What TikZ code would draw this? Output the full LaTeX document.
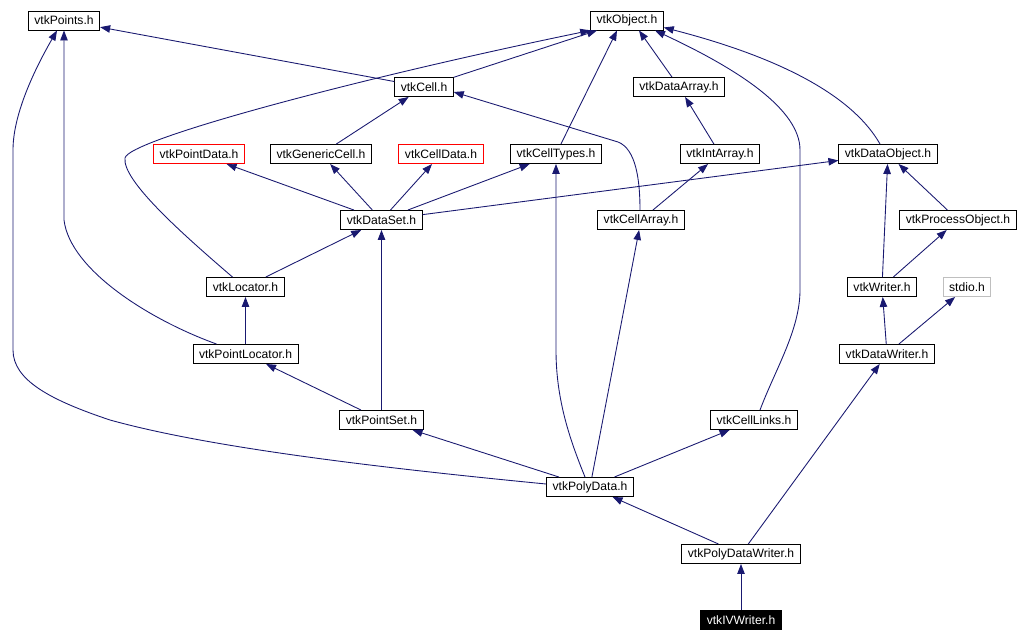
\documentclass[tikz,border=0pt]{standalone}
\usepackage{fontspec}
\setmainfont{Liberation Sans}
\usepackage{xcolor}
\usepackage{tikz}
\usetikzlibrary{arrows.meta,calc}
\definecolor{edgeblue}{HTML}{191970}

\begin{document}
\begin{tikzpicture}[x=0.02cm, y=-0.02cm,
    file/.style={draw=black, line width=0.55pt, fill=white, font=\fontsize{6.9}{8}\selectfont,
        inner xsep=0.12cm, inner ysep=0pt, minimum height=0.38cm},
    missing/.style={file, draw=red},
    sys/.style={file, draw=black!25},
    self/.style={file, fill=black, text=white},
    dep/.style={draw=edgeblue, line width=0.5pt, -{Triangle[length=0.2cm,width=0.15cm]}}]
    \useasboundingbox (0,0) rectangle (1018,642);

    % Headers, top to bottom
    \node[file] (points) at (64,20.5) {vtkPoints.h};
    \node[file] (obj) at (627,20.5) {vtkObject.h};

    \node[file] (cell) at (424,87) {vtkCell.h};
    \node[file] (darray) at (679,87) {vtkDataArray.h};

    \node[missing] (pdata) at (199,154) {vtkPointData.h};
    \node[file] (gcell) at (321,154) {vtkGenericCell.h};
    \node[missing] (cdata) at (441,154) {vtkCellData.h};
    \node[file] (ctypes) at (556,154) {vtkCellTypes.h};
    \node[file] (iarray) at (720,154) {vtkIntArray.h};
    \node[file] (dobj) at (888,154) {vtkDataObject.h};

    \node[file] (dset) at (381.5,220) {vtkDataSet.h};
    \node[file] (carray) at (641,220) {vtkCellArray.h};
    \node[file] (pobj) at (958,220) {vtkProcessObject.h};

    \node[file] (loc) at (245.5,287) {vtkLocator.h};
    \node[file] (writer) at (882,287) {vtkWriter.h};
    \node[sys] (stdio) at (967,287) {stdio.h};

    \node[file] (ploc) at (245.5,354) {vtkPointLocator.h};
    \node[file] (dwriter) at (887,354) {vtkDataWriter.h};

    \node[file] (pset) at (381.5,420) {vtkPointSet.h};
    \node[file] (clinks) at (754,420) {vtkCellLinks.h};

    \node[file] (poly) at (590,487) {vtkPolyData.h};
    \node[file] (pwriter) at (741,554) {vtkPolyDataWriter.h};
    \node[self] (ivw) at (741,620) {vtkIVWriter.h};

    % Straight includes
    \draw[dep] (cell) -- (points);
    \draw[dep] (cell) -- ($(obj.south)+(-30,0)$);
    \draw[dep] (darray) -- ($(obj.south)+(12,0)$);
    \draw[dep] (ctypes) -- ($(obj.south)+(-10,0)$);
    \draw[dep] (iarray) -- (darray);
    \draw[dep] (dset) -- (pdata);
    \draw[dep] (dset) -- (gcell);
    \draw[dep] (dset) -- (cdata);
    \draw[dep] (dset) -- (ctypes);
    \draw[dep] (dset) -- (dobj);
    \draw[dep] (gcell) -- (cell);
    \draw[dep] (carray) -- (iarray);
    \draw[dep] (pobj) -- (dobj);
    \draw[dep] (loc) -- (dset);
    \draw[dep] (ploc) -- (loc);
    \draw[dep] (pset) -- (dset);
    \draw[dep] (pset) -- (ploc);
    \draw[dep] (poly) -- (pset);
    \draw[dep] (poly) -- (carray);
    \draw[dep] (poly) -- (clinks);
    \draw[dep] (writer) -- (dobj);
    \draw[dep] (writer) -- (pobj);
    \draw[dep] (dwriter) -- (writer);
    \draw[dep] (dwriter) -- (stdio);
    \draw[dep] (pwriter) -- (dwriter);
    \draw[dep] (pwriter) -- (poly);
    \draw[dep] (ivw) -- (pwriter);

    % Routed includes
    \draw[dep] ($(loc.north)+(-13,0)$) .. controls (180,232) and (122,180) .. (125,158)
        .. controls (128,140) and (350,80) .. (obj.south west);
    \draw[dep] ($(clinks.north)+(6,0)$) .. controls (775,370) and (800,330) .. (800,290)
        -- (800,150) .. controls (800,110) and (740,70) .. ($(obj.south)+(28,0)$);
    \draw[dep] ($(dobj.north)+(-8,0)$) .. controls (855,100) and (790,60) .. ($(obj.south east)+(0,-3)$);
    \draw[dep] ($(carray.north)+(-1,0)$) .. controls (640,180) and (636,149) .. (618,142)
        -- ($(cell.east)+(0,5)$);
    \draw[dep] ($(ploc.north)+(-29,0)$) .. controls (150,320) and (70,270) .. (64,220)
        -- (points.south);
    \draw[dep] ($(poly.west)+(0,-3)$) .. controls (350,465) and (200,445) .. (110,420)
        .. controls (50,400) and (13,380) .. (13,350) -- (13,150)
        .. controls (13,110) and (40,60) .. ($(points.south)+(-7,0)$);
    \draw[dep] ($(poly.north)+(-5,0)$) .. controls (570,440) and (556,400) .. (556,350)
        -- (ctypes.south);
\end{tikzpicture}
\end{document}
